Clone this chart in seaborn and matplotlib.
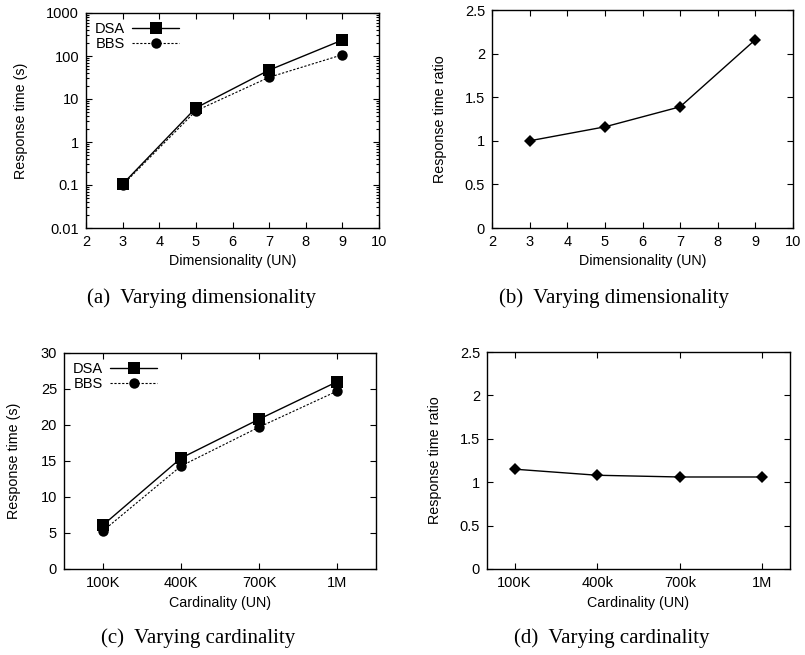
"""
Response time of DSA vs BBS: dimensionality and cardinality sweeps (four panels).
"""
import numpy as np
import matplotlib
matplotlib.use("Agg")
import matplotlib.pyplot as plt
from matplotlib.ticker import FuncFormatter, LogLocator, NullFormatter
import seaborn as sns

# --- data ---
dims = [3, 5, 7, 9]
dsa_dim = [0.105, 6.2, 47, 235]
bbs_dim = [0.1, 5.3, 32, 107]
ratio_dim = [1.0, 1.16, 1.39, 2.16]

card_labels_c = ["100K", "400K", "700K", "1M"]
card_labels_d = ["100K", "400k", "700k", "1M"]
dsa_card = [6.1, 15.4, 20.8, 26.0]
bbs_card = [5.3, 14.3, 19.7, 24.7]
ratio_card = [1.15, 1.08, 1.06, 1.06]

captions = ["(a)  Varying dimensionality", "(b)  Varying dimensionality",
            "(c)  Varying cardinality", "(d)  Varying cardinality"]

W, H = 805, 655
LABEL_FS = 10.3

sns.set_theme(style="ticks", rc={"text.color": "black", "axes.labelcolor": "black",
                                 "xtick.color": "black", "ytick.color": "black"})
plt.rcParams["font.family"] = ["Liberation Sans", "DejaVu Sans"]
plt.rcParams["font.size"] = 10


def box(l, t, r, b):
    # pixel box -> figure fraction rect
    return [l / W, 1 - b / H, (r - l) / W, (b - t) / H]


def gnuplot_axes(ax, xlabel, ylabel, ypad):
    for sp in ax.spines.values():
        sp.set_linewidth(1.0)
        sp.set_color("black")
    ax.tick_params(which="both", direction="in", top=True, right=True,
                   colors="black", labelsize=10.5, width=0.8)
    ax.tick_params(which="major", length=4, pad=5)
    ax.tick_params(which="minor", length=2)
    ax.yaxis.set_major_formatter(FuncFormatter(lambda v, p: f"{v:g}"))
    ax.grid(False)
    ax.set_xlabel(xlabel, fontsize=LABEL_FS, labelpad=4)
    ax.set_ylabel(ylabel, fontsize=LABEL_FS, labelpad=ypad)


def legend(ax):
    leg = ax.legend(loc="upper left", frameon=False, markerfirst=False,
                    handlelength=3.2, handletextpad=0.5, labelspacing=0.1,
                    borderaxespad=0.2, fontsize=10.5)
    for t in leg.get_texts():
        t.set_color("black")


fig = plt.figure(figsize=(W / 100, H / 100), dpi=100)

# (a) response time vs dimensionality, log scale
ax = fig.add_axes(box(86, 13, 379, 228))
sns.lineplot(x=dims, y=dsa_dim, ax=ax, color="black", lw=1.0, marker="s",
             markersize=8.5, markeredgewidth=0, label="DSA")
sns.lineplot(x=dims, y=bbs_dim, ax=ax, color="black", lw=0.8, linestyle=(0, (2, 1.5)),
             marker="o", markersize=7.5, markeredgewidth=0, label="BBS")
ax.set_yscale("log")
ax.set_ylim(0.01, 1000)
ax.set_xlim(2, 10)
ax.set_xticks(range(2, 11))
ax.yaxis.set_minor_locator(LogLocator(base=10, subs=np.arange(2, 10)))
ax.yaxis.set_minor_formatter(NullFormatter())
gnuplot_axes(ax, "Dimensionality (UN)", "Response time (s)", 13)
legend(ax)

# (b) ratio vs dimensionality
ax = fig.add_axes(box(492, 10, 793, 228))
sns.lineplot(x=dims, y=ratio_dim, ax=ax, color="black", lw=1.0, marker="D",
             markersize=6.5, markeredgewidth=0)
ax.set_ylim(0, 2.5)
ax.set_xlim(2, 10)
ax.set_xticks(range(2, 11))
ax.set_yticks(np.arange(0, 2.51, 0.5))
gnuplot_axes(ax, "Dimensionality (UN)", "Response time ratio", 13)

# (c) response time vs cardinality
pos = list(range(len(card_labels_c)))
ax = fig.add_axes(box(64, 353, 376, 569))
sns.lineplot(x=pos, y=dsa_card, ax=ax, color="black", lw=1.0, marker="s",
             markersize=8.5, markeredgewidth=0, label="DSA")
sns.lineplot(x=pos, y=bbs_card, ax=ax, color="black", lw=0.8, linestyle=(0, (2, 1.5)),
             marker="o", markersize=7.5, markeredgewidth=0, label="BBS")
ax.set_ylim(0, 30)
ax.set_xlim(-0.5, len(pos) - 0.5)
ax.set_xticks(pos)
ax.set_xticklabels(card_labels_c)
gnuplot_axes(ax, "Cardinality (UN)", "Response time (s)", 14)
legend(ax)

# (d) ratio vs cardinality
ax = fig.add_axes(box(487, 352, 790, 569))
sns.lineplot(x=pos, y=ratio_card, ax=ax, color="black", lw=1.0, marker="D",
             markersize=6.5, markeredgewidth=0)
ax.set_ylim(0, 2.5)
ax.set_xlim(-1 / 3, len(pos) - 1 + 1 / 3)
ax.set_xticks(pos)
ax.set_xticklabels(card_labels_d)
ax.set_yticks(np.arange(0, 2.51, 0.5))
gnuplot_axes(ax, "Cardinality (UN)", "Response time ratio", 13)

# subfigure captions
for (cx, cy), txt in zip([(201, 298), (614, 298), (198, 638), (612, 638)], captions):
    fig.text(cx / W, 1 - cy / H, txt, ha="center", va="center", color="black",
             family=["Liberation Serif", "DejaVu Serif"], fontsize=15)

fig.savefig("out.png", dpi=100)
